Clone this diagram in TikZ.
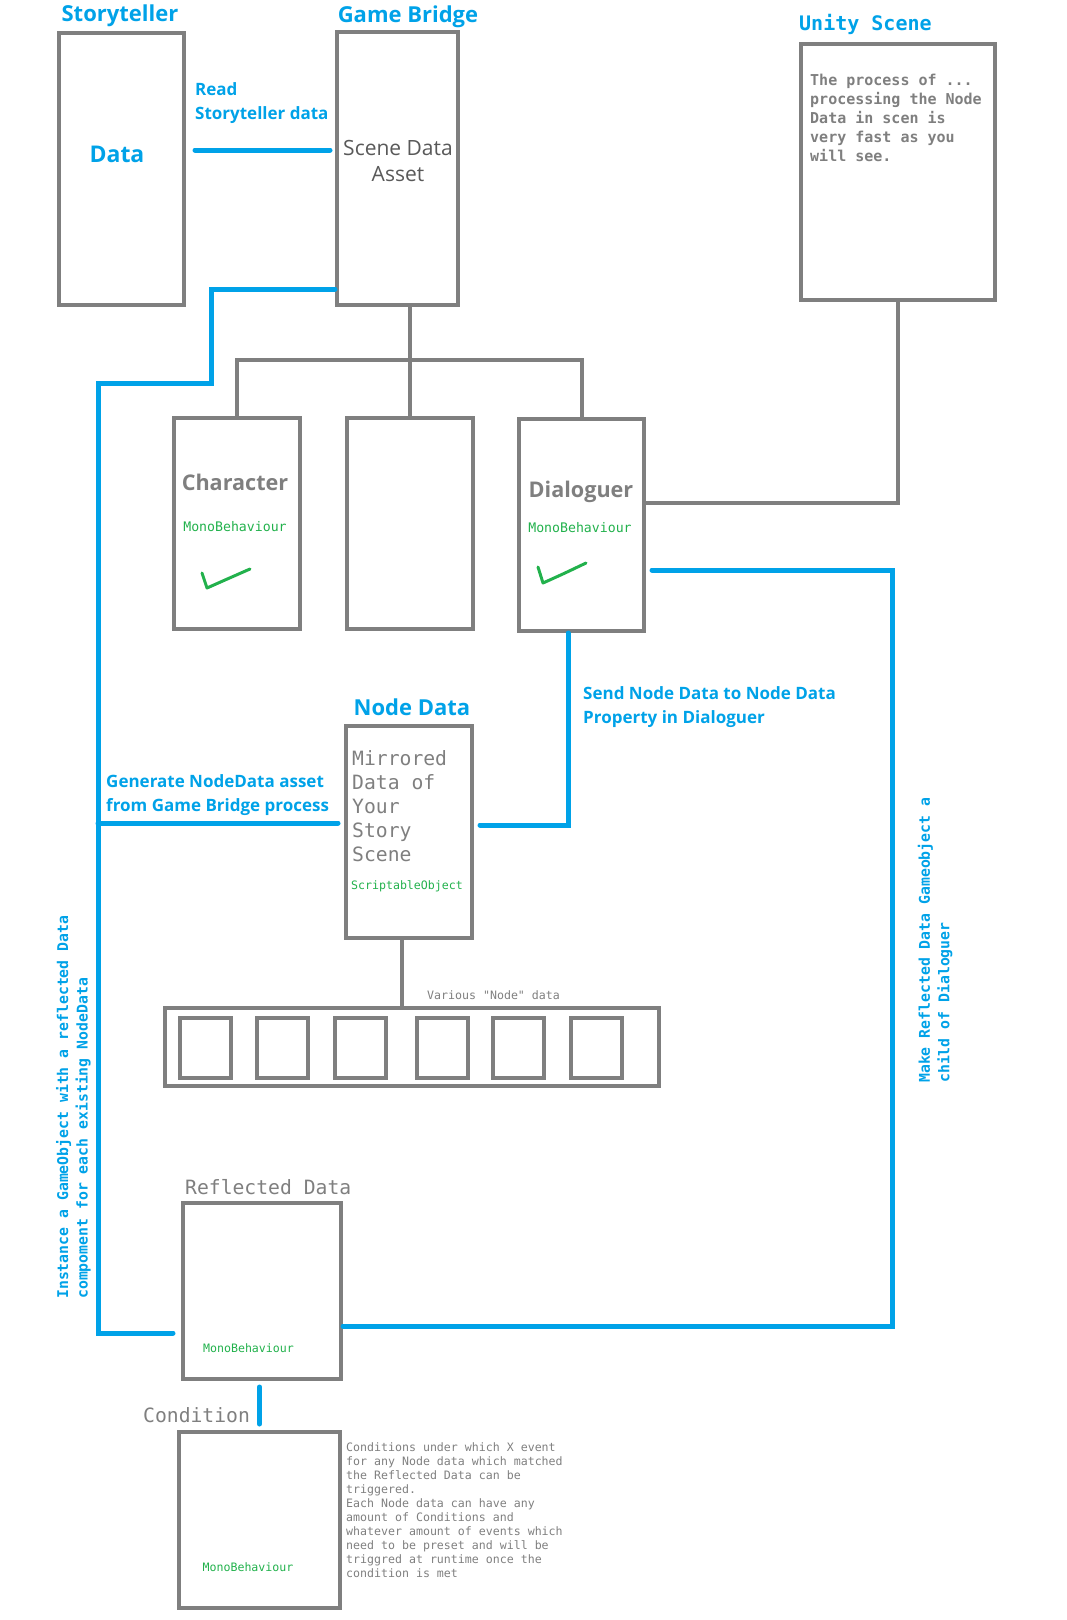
\documentclass[tikz,border=0pt]{standalone}
\usepackage{fontspec}
\setmainfont{Open Sans}
\setmonofont{DejaVu Sans Mono}
\usepackage{tikz}
\usetikzlibrary{positioning}

\definecolor{paintblue}{RGB}{0,162,232}
\definecolor{boxgray}{RGB}{127,127,127}
\definecolor{textgray}{RGB}{89,89,89}
\definecolor{paintgreen}{RGB}{34,177,76}
\newcommand{\fsz}[2]{\fontsize{#1}{#2}\selectfont}

\tikzset{
	box/.style={draw=boxgray, line width=4pt, inner sep=0pt},
	wire/.style={draw=boxgray, line width=4pt},
	flow/.style={draw=paintblue, line width=5pt, line cap=round},
	tick/.style={draw=paintgreen, line width=3pt, line cap=round, line join=round},
	title/.style={text=paintblue, font=\bfseries\fsz{22}{26}, inner sep=0pt},
	note/.style={text=paintblue, font=\bfseries\fsz{17}{24}, align=left, inner sep=0pt, anchor=north west},
	mono/.style={text=boxgray, font=\ttfamily\fsz{19.7}{24}, inner sep=0pt},
	mb/.style={text=paintgreen, font=\ttfamily\fsz{11.6}{14}, inner sep=0pt},
	side/.style={text=paintblue, font=\ttfamily\bfseries\fsz{14.8}{19.5}, align=left, inner sep=0pt, rotate=90, anchor=north west}
}

\begin{document}
\begin{tikzpicture}[x=1pt,y=-1pt]
	\useasboundingbox (0,0) rectangle (1067,1620);
	
	\node[box, minimum width=125pt, minimum height=272pt] (st) at (121.5,169) {};
	\node[box, minimum width=121pt, minimum height=273pt] (gb) at (397.5,168.5) {};
	\node[box, minimum width=194pt, minimum height=256pt] (us) at (898,172) {};
	\node[box, minimum width=125.5pt, minimum height=211pt] (ch) at (237,523.5) {};
	\node[box, minimum width=125.5pt, minimum height=211pt] (mid) at (410,523.5) {};
	\node[box, minimum width=125pt, minimum height=212pt] (dl) at (581.5,525) {};
	\node[box, minimum width=126pt, minimum height=212pt] (nd) at (409,832) {};
	\node[box, minimum width=494pt, minimum height=78pt] (list) at (412,1047) {};
	\foreach \i/\x in {1/205.5, 2/282, 3/360.5, 4/442.5, 5/518.5, 6/596.5}
		\node[box, minimum width=51pt, minimum height=60pt] (n\i) at (\x,1048) {};
	\node[box, minimum width=158pt, minimum height=176pt] (rd) at (262,1291) {};
	\node[box, minimum width=161pt, minimum height=176pt] (cond) at (259.5,1520) {};
	
	% titles
	\node[title] (sttitle) at (120,16) {Storyteller};
	\node[title] (gbtitle) at (408,17) {Game Bridge};
	\node[title] (ndtitle) at (412,707) {Node Data};
	\node[text=paintblue, font=\ttfamily\bfseries\fsz{20}{24}, inner sep=0pt, anchor=base west] (ustitle) at (799,30) {Unity Scene};
	\node[mono, anchor=base west] (rdtitle) at (185,1194) {Reflected Data};
	\node[mono, anchor=base west] (condtitle) at (143,1422) {Condition};
	
	% box texts
	\node[text=paintblue, font=\bfseries\fsz{23}{28}, inner sep=0pt] (data) at (117,154) {Data};
	\node[text=textgray, font=\fsz{21}{26}, align=center, inner sep=0pt] (asset) at (398,161) {Scene Data\\Asset};
	\node[text=boxgray, font=\bfseries\fsz{21.6}{24}, inner sep=0pt] (chname) at (235,482) {Character};
	\node[text=boxgray, font=\bfseries\fsz{21.6}{24}, inner sep=0pt] (dlname) at (581,492) {Dialoguer};
	\node[mb, font=\ttfamily\fsz{13.2}{16}] (chmb) at (235,527) {MonoBehaviour};
	\node[mb, font=\ttfamily\fsz{13.2}{16}] (dlmb) at (580,528) {MonoBehaviour};
	\node[text=boxgray, font=\ttfamily\bfseries\fsz{15}{18.8}, align=left, inner sep=0pt, anchor=north west] (ustext) at (810,74.3) {The process of ...\\processing the Node\\Data in scen is\\very fast as you\\will see.};
	\node[mono, align=left, anchor=north west] (ndtext) at (352,750) {Mirrored\\Data of\\Your\\Story\\Scene};
	\node[mb] (ndso) at (407,886) {ScriptableObject};
	\node[mb, text=boxgray, anchor=base west] (various) at (427,999) {Various "Node" data};
	\node[mb] (rdmb) at (248.5,1348) {MonoBehaviour};
	\node[mb] (condmb) at (248,1567) {MonoBehaviour};
	\node[mb, text=boxgray, align=left, anchor=north west] (condtext) at (346,1442) {Conditions under which X event\\for any Node data which matched\\the Reflected Data can be\\triggered.\\Each Node data can have any\\amount of Conditions and\\whatever amount of events which\\need to be preset and will be\\triggred at runtime once the\\condition is met};
	
	% flow labels
	\node[note] (readlbl) at (195,82) {Read\\Storyteller data};
	\node[note] (genlbl) at (106,774) {Generate NodeData asset\\from Game Bridge process};
	\node[note] (sendlbl) at (583,686) {Send Node Data to Node Data\\Property in Dialoguer};
	\node[side] (instlbl) at (56,1299) {Instance a GameObject with a reflected Data\\compoment for each existing NodeData};
	\node[side] (makelbl) at (917.7,1083) {Make Reflected Data Gameobject a\\child of Dialoguer};
	
	% ticks
	\draw[tick] (202,573) -- (207,588) .. controls (225,580) .. (250,569);
	\draw[tick] (538,567) -- (543,583) .. controls (563,574) .. (586,563);
	
	% gray links
	\coordinate (hub) at (410,360);
	\draw[wire] (ch.north) |- (hub) -| (dl.north);
	\draw[wire] (gb.south -| mid.north) -- (mid.north);
	\draw[wire] (us.south) |- ([yshift=22pt]dl.east);
	\draw[wire] (nd.south -| 402,0) -- (list.north -| 402,0);
	
	% blue links
	\coordinate (bend) at (211,383);
	\coordinate (spine) at (98,383);
	\coordinate (rail) at (892,900);
	\coordinate (ndin) at ([xshift=-6pt,yshift=9pt]nd.west);
	\draw[flow] ([xshift=9pt,yshift=19pt]st.east) -- ([xshift=-5pt,yshift=18.5pt]gb.west);
	\draw[flow] ([yshift=-120.5pt]gb.west) -| (bend) -- (spine) |- ([xshift=-8pt,yshift=-42pt]rd.west);
	\draw[flow] (spine |- ndin) -- (ndin);
	\draw[flow] ([xshift=-13.5pt]dl.south) |- ([xshift=6pt,yshift=7pt]nd.east);
	\draw[flow] ([xshift=6pt,yshift=-45pt]dl.east) -| (rail) |- ([yshift=-35pt]rd.east);
	\draw[flow, shorten <=6pt, shorten >=6pt] (cond.north |- rd.south) -- (cond.north);
	
\end{tikzpicture}
\end{document}
